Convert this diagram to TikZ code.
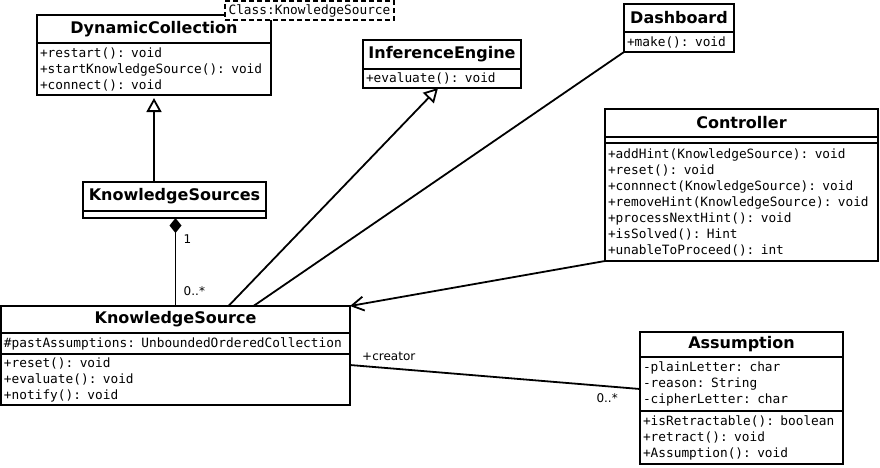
\documentclass[tikz,border=0pt]{standalone}
\usepackage{fontspec}
\setmainfont{DejaVu Sans}
\newfontfamily\umlmono{DejaVu Sans Mono}
\usetikzlibrary{arrows.meta}

\tikzset{
  umltitle/.style={draw, line width=2pt, fill=white, anchor=north west, outer sep=0pt,
    inner sep=0pt, minimum height=28pt, font=\fontsize{16}{19}\selectfont\bfseries},
  umlpart/.style={draw, line width=2pt, fill=white, anchor=north west, outer sep=0pt,
    inner xsep=3pt, inner ysep=0pt, align=left, font=\umlmono\fontsize{12.8}{16}\selectfont},
  umlline/.style={line width=1.8pt},
  umllabel/.style={font=\fontsize{12}{14}\selectfont},
  umlinherit/.style={umlline, -{Triangle[open, fill=white, length=14pt, width=15pt]}}
}

\begin{document}
\begin{tikzpicture}[x=1pt,y=-1pt]
\useasboundingbox (0,0) rectangle (880,467);

\node[umltitle, minimum width=234pt] (dc) at (37,15) {DynamicCollection};
\node[umlpart, text width=228pt, minimum height=52pt] (dc-m) at (dc.south west)
  {+restart(): void\\+startKnowledgeSource(): void\\+connect(): void};
\node[umlpart, dash pattern=on 5pt off 3pt, minimum width=169pt, minimum height=19pt,
  inner xsep=0pt] (dc-st) at (225,1) {Class:KnowledgeSource};

\node[umltitle, minimum width=158pt, minimum height=29pt] (ie) at (363,40) {InferenceEngine};
\node[umlpart, text width=152pt, minimum height=19pt] (ie-m) at (ie.south west) {+evaluate(): void};

\node[umltitle, minimum width=110pt] (db) at (624,4) {Dashboard};
\node[umlpart, text width=104pt, minimum height=20pt] (db-m) at (db.south west) {+make(): void};

\node[umltitle, minimum width=273pt] (ctrl) at (605,109) {Controller};
\node[umlpart, minimum width=273pt, minimum height=6pt, inner sep=0pt] (ctrl-a) at (ctrl.south west) {};
\node[umlpart, text width=267pt, minimum height=118pt] (ctrl-m) at (ctrl-a.south west)
  {+addHint(KnowledgeSource): void\\+reset(): void\\+connnect(KnowledgeSource): void\\
   +removeHint(KnowledgeSource): void\\+processNextHint(): void\\+isSolved(): Hint\\
   +unableToProceed(): int};

\node[umltitle, minimum width=183pt, minimum height=29pt] (kss) at (83,182) {KnowledgeSources};
\node[umlpart, minimum width=183pt, minimum height=7pt, inner sep=0pt] (kss-a) at (kss.south west) {};

\node[umltitle, minimum width=349pt, minimum height=27pt] (ks) at (1,306) {KnowledgeSource};
\node[umlpart, text width=343pt, minimum height=21pt] (ks-a) at (ks.south west)
  {\#pastAssumptions: UnboundedOrderedCollection};
\node[umlpart, text width=343pt, minimum height=51pt] (ks-m) at (ks-a.south west)
  {+reset(): void\\+evaluate(): void\\+notify(): void};

\node[umltitle, minimum width=203pt, minimum height=25pt] (asm) at (640,332) {Assumption};
\node[umlpart, text width=197pt, minimum height=54pt] (asm-a) at (asm.south west)
  {-plainLetter: char\\-reason: String\\-cipherLetter: char};
\node[umlpart, text width=197pt, minimum height=53pt] (asm-m) at (asm-a.south west)
  {+isRetractable(): boolean\\+retract(): void\\+Assumption(): void};

\draw[umlinherit, shorten >=3pt] (kss.north -| dc-m.south) -- (dc-m.south);
\draw[umlline, {Diamond[length=15pt, width=12pt]}-] (kss-a.south -| ks.north)
  -- node[umllabel, pos=0.24, right=4pt] {1} node[umllabel, pos=0.83, right=4pt] {0..*} (ks.north);
\draw[umlinherit] ([xshift=53pt]ks.north) -- ([xshift=-4pt]ie-m.south);
\draw[umlline] ([xshift=78pt]ks.north) -- (db-m.south west);
\draw[umlline, -{Straight Barb[length=12pt, width=14pt]}] (ctrl-m.south west) -- (ks.north east);
\draw[umlline] ([yshift=14.5pt]ks-m.east)
  -- node[umllabel, pos=0, anchor=south west, xshift=8pt] {+creator}
     node[umllabel, pos=1, anchor=north east, xshift=-18pt] {0..*} ([yshift=-5pt]asm-a.west);
\end{tikzpicture}
\end{document}
